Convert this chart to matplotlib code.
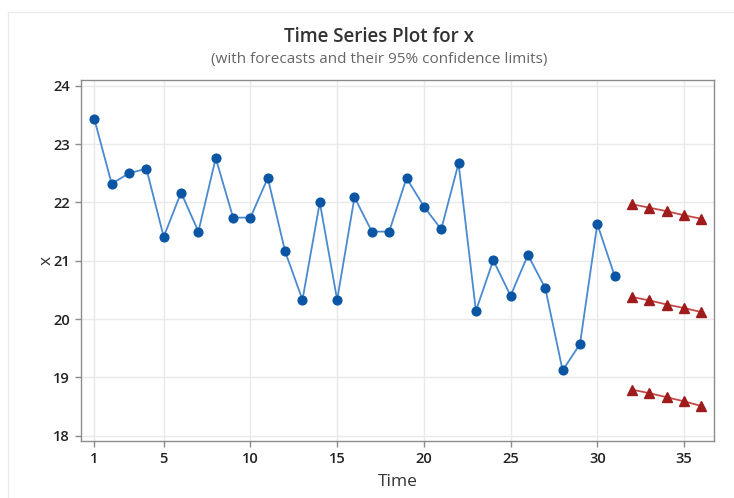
import numpy as np
import matplotlib.pyplot as plt
from matplotlib.lines import Line2D

plt.rcParams['font.family'] = ['Open Sans', 'DejaVu Sans']

# observed series
time = np.arange(1, 32)
x = [23.43, 22.32, 22.50, 22.58, 21.41, 22.17, 21.50, 22.76, 21.74, 21.74,
     22.42, 21.16, 20.33, 22.00, 20.33, 22.09, 21.50, 21.50, 22.42, 21.93,
     21.54, 22.67, 20.14, 21.01, 20.40, 21.10, 20.53, 19.12, 19.57, 21.63,
     20.74]

# forecasts with 95% limits
fc_time = np.arange(32, 37)
fc_upper = [21.97, 21.91, 21.85, 21.78, 21.72]
fc_mid = [20.38, 20.32, 20.25, 20.19, 20.12]
fc_lower = [18.79, 18.73, 18.66, 18.59, 18.51]

xticks = [1, 5, 10, 15, 20, 25, 30, 35]
yticks = [18, 19, 20, 21, 22, 23, 24]

fig = plt.figure(figsize=(7.34, 4.98), dpi=100)
ax = fig.add_axes([0.1104, 0.1145, 0.8624, 0.7249])

# faint panel border
fig.add_artist(Line2D([8/734, 8/734], [0, 1 - 12/498], color='#ebebeb', lw=1))
fig.add_artist(Line2D([8/734, 1], [1 - 12/498, 1 - 12/498], color='#ebebeb', lw=1))

ax.plot(time, x, color='#4a8ad0', lw=1.3, zorder=2)
ax.plot(time, x, 'o', color='#0b56a4', ms=6.3, zorder=3)

for band in (fc_upper, fc_mid, fc_lower):
    ax.plot(fc_time, band, color='#c44a4a', lw=1.3, zorder=2)
    ax.plot(fc_time, band, '^', color='#a01c1c', ms=6.5, zorder=3)

ax.set_xlim(0.233, 36.73)
ax.set_ylim(17.91, 24.10)
ax.set_xticks(xticks)
ax.set_yticks(yticks)
ax.grid(True, color='#e9e9e9', lw=1)
ax.set_axisbelow(True)

for s in ax.spines.values():
    s.set_color('#8c8c8c')
    s.set_linewidth(1)
ax.tick_params(direction='out', length=4, width=1, color='#8c8c8c',
               labelsize=10.5, labelcolor='#222222', pad=4)
for lab in ax.get_xticklabels() + ax.get_yticklabels():
    lab.set_fontweight('semibold')

ax.set_xlabel('Time', fontsize=12.5, color='#333333', labelpad=6)
ax.set_ylabel('x', fontsize=12.5, color='#333333')
ax.yaxis.set_label_coords(-0.042, 0.5)

fig.text(0.517, 1 - 37/498, 'Time Series Plot for x', ha='center', va='center',
         fontsize=13.5, fontweight='semibold', color='#333333')
fig.text(0.516, 1 - 59/498, '(with forecasts and their 95% confidence limits)',
         ha='center', va='center', fontsize=11, color='#666666')

fig.savefig('out.png', dpi=100)
